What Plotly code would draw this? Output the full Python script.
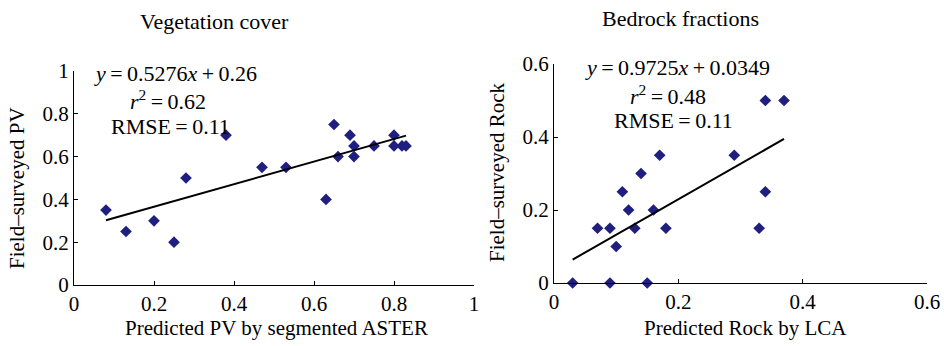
import plotly.graph_objects as go

# ---- data: Vegetation cover ----
pv_pred = [0.08, 0.13, 0.20, 0.25, 0.28, 0.38, 0.47, 0.53, 0.63, 0.65, 0.66, 0.69, 0.70, 0.70, 0.75, 0.80, 0.80, 0.82, 0.83]
pv_field = [0.35, 0.25, 0.30, 0.20, 0.50, 0.70, 0.55, 0.55, 0.40, 0.75, 0.60, 0.70, 0.65, 0.60, 0.65, 0.70, 0.65, 0.65, 0.65]
pv_slope, pv_inter = 0.5276, 0.26

# ---- data: Bedrock fractions ----
rock_pred = [0.03, 0.07, 0.09, 0.09, 0.10, 0.11, 0.12, 0.13, 0.14, 0.15, 0.16, 0.17, 0.18, 0.29, 0.33, 0.34, 0.34, 0.37]
rock_field = [0.00, 0.15, 0.15, 0.00, 0.10, 0.25, 0.20, 0.15, 0.30, 0.00, 0.20, 0.35, 0.15, 0.35, 0.15, 0.50, 0.25, 0.50]
rock_slope, rock_inter = 0.9725, 0.0349

pv_ticks = [0, 0.2, 0.4, 0.6, 0.8, 1]
pv_ticktext = ["0", "0.2", "0.4", "0.6", "0.8", "1"]
rock_ticks = [0, 0.2, 0.4, 0.6]
rock_ticktext = ["0", "0.2", "0.4", "0.6"]

FONT = "Liberation Serif"
FS = 21
MARK = "#1f1f7f"

W, H = 944, 346

fig = go.Figure()

fig.add_trace(go.Scatter(x=pv_pred, y=pv_field, mode="markers",
                         marker=dict(symbol="diamond", size=9, color=MARK),
                         xaxis="x", yaxis="y", showlegend=False, cliponaxis=False))
lx = [min(pv_pred), max(pv_pred)]
fig.add_trace(go.Scatter(x=lx, y=[pv_slope * v + pv_inter for v in lx], mode="lines",
                         line=dict(color="black", width=2), xaxis="x", yaxis="y", showlegend=False))

fig.add_trace(go.Scatter(x=rock_pred, y=rock_field, mode="markers",
                         marker=dict(symbol="diamond", size=9, color=MARK),
                         xaxis="x2", yaxis="y2", showlegend=False, cliponaxis=False))
rx = [min(rock_pred), max(rock_pred)]
fig.add_trace(go.Scatter(x=rx, y=[rock_slope * v + rock_inter for v in rx], mode="lines",
                         line=dict(color="black", width=2), xaxis="x2", yaxis="y2", showlegend=False))

def px(x):
    return x / W

def py(y):
    return 1 - y / H

axis_common = dict(showline=True, linecolor="black", linewidth=1, ticks="inside", ticklen=4,
                   tickcolor="black", showgrid=False, zeroline=False, automargin=False,
                   tickfont=dict(family=FONT, size=FS, color="black"))

fig.update_layout(
    template="none",
    width=W, height=H,
    margin=dict(l=0, r=0, t=0, b=0, pad=0),
    paper_bgcolor="white", plot_bgcolor="white",
    font=dict(family=FONT, size=FS, color="black"),
    xaxis=dict(domain=[px(74), px(474)], range=[0, 1], tickvals=pv_ticks, ticktext=pv_ticktext,
               anchor="y", **axis_common),
    yaxis=dict(domain=[py(285), py(71)], range=[0, 1], tickvals=pv_ticks, ticktext=pv_ticktext,
               anchor="x", **axis_common),
    xaxis2=dict(domain=[px(554), px(927)], range=[0, 0.6], tickvals=rock_ticks, ticktext=rock_ticktext,
                anchor="y2", **axis_common),
    yaxis2=dict(domain=[py(283), py(64)], range=[0, 0.6], tickvals=rock_ticks, ticktext=rock_ticktext,
                anchor="x2", **axis_common),
)

def ann(text, x, y, angle=0, size=FS):
    fig.add_annotation(text=text, x=px(x), y=py(y), xref="paper", yref="paper",
                       showarrow=False, xanchor="center", yanchor="middle", textangle=angle,
                       font=dict(family=FONT, size=size, color="black"))

T = "\u2009"  # thin space
ann("Vegetation cover", 214, 21, size=22)
ann("Bedrock fractions", 680, 18, size=22)
ann("Predicted PV by segmented ASTER", 276, 328)
ann("Predicted Rock by LCA", 745, 328)
ann("Field\u2013surveyed PV", 17, 188, -90)
ann("Field\u2013surveyed Rock", 497, 172, -90)

ann(f"<i>y</i>{T}={T}0.5276<i>x</i>{T}+{T}0.26", 175, 73, size=22)
ann(f"<i>r</i><sup>2</sup>{T}={T}0.62", 168, 100, size=22)
ann(f"RMSE{T}={T}0.11", 170, 126, size=22)
ann(f"<i>y</i>{T}={T}0.9725<i>x</i>{T}+{T}0.0349", 677, 67, size=22)
ann(f"<i>r</i><sup>2</sup>{T}={T}0.48", 668, 95, size=22)
ann(f"RMSE{T}={T}0.11", 673, 120, size=22)

fig.write_html("out.html")
